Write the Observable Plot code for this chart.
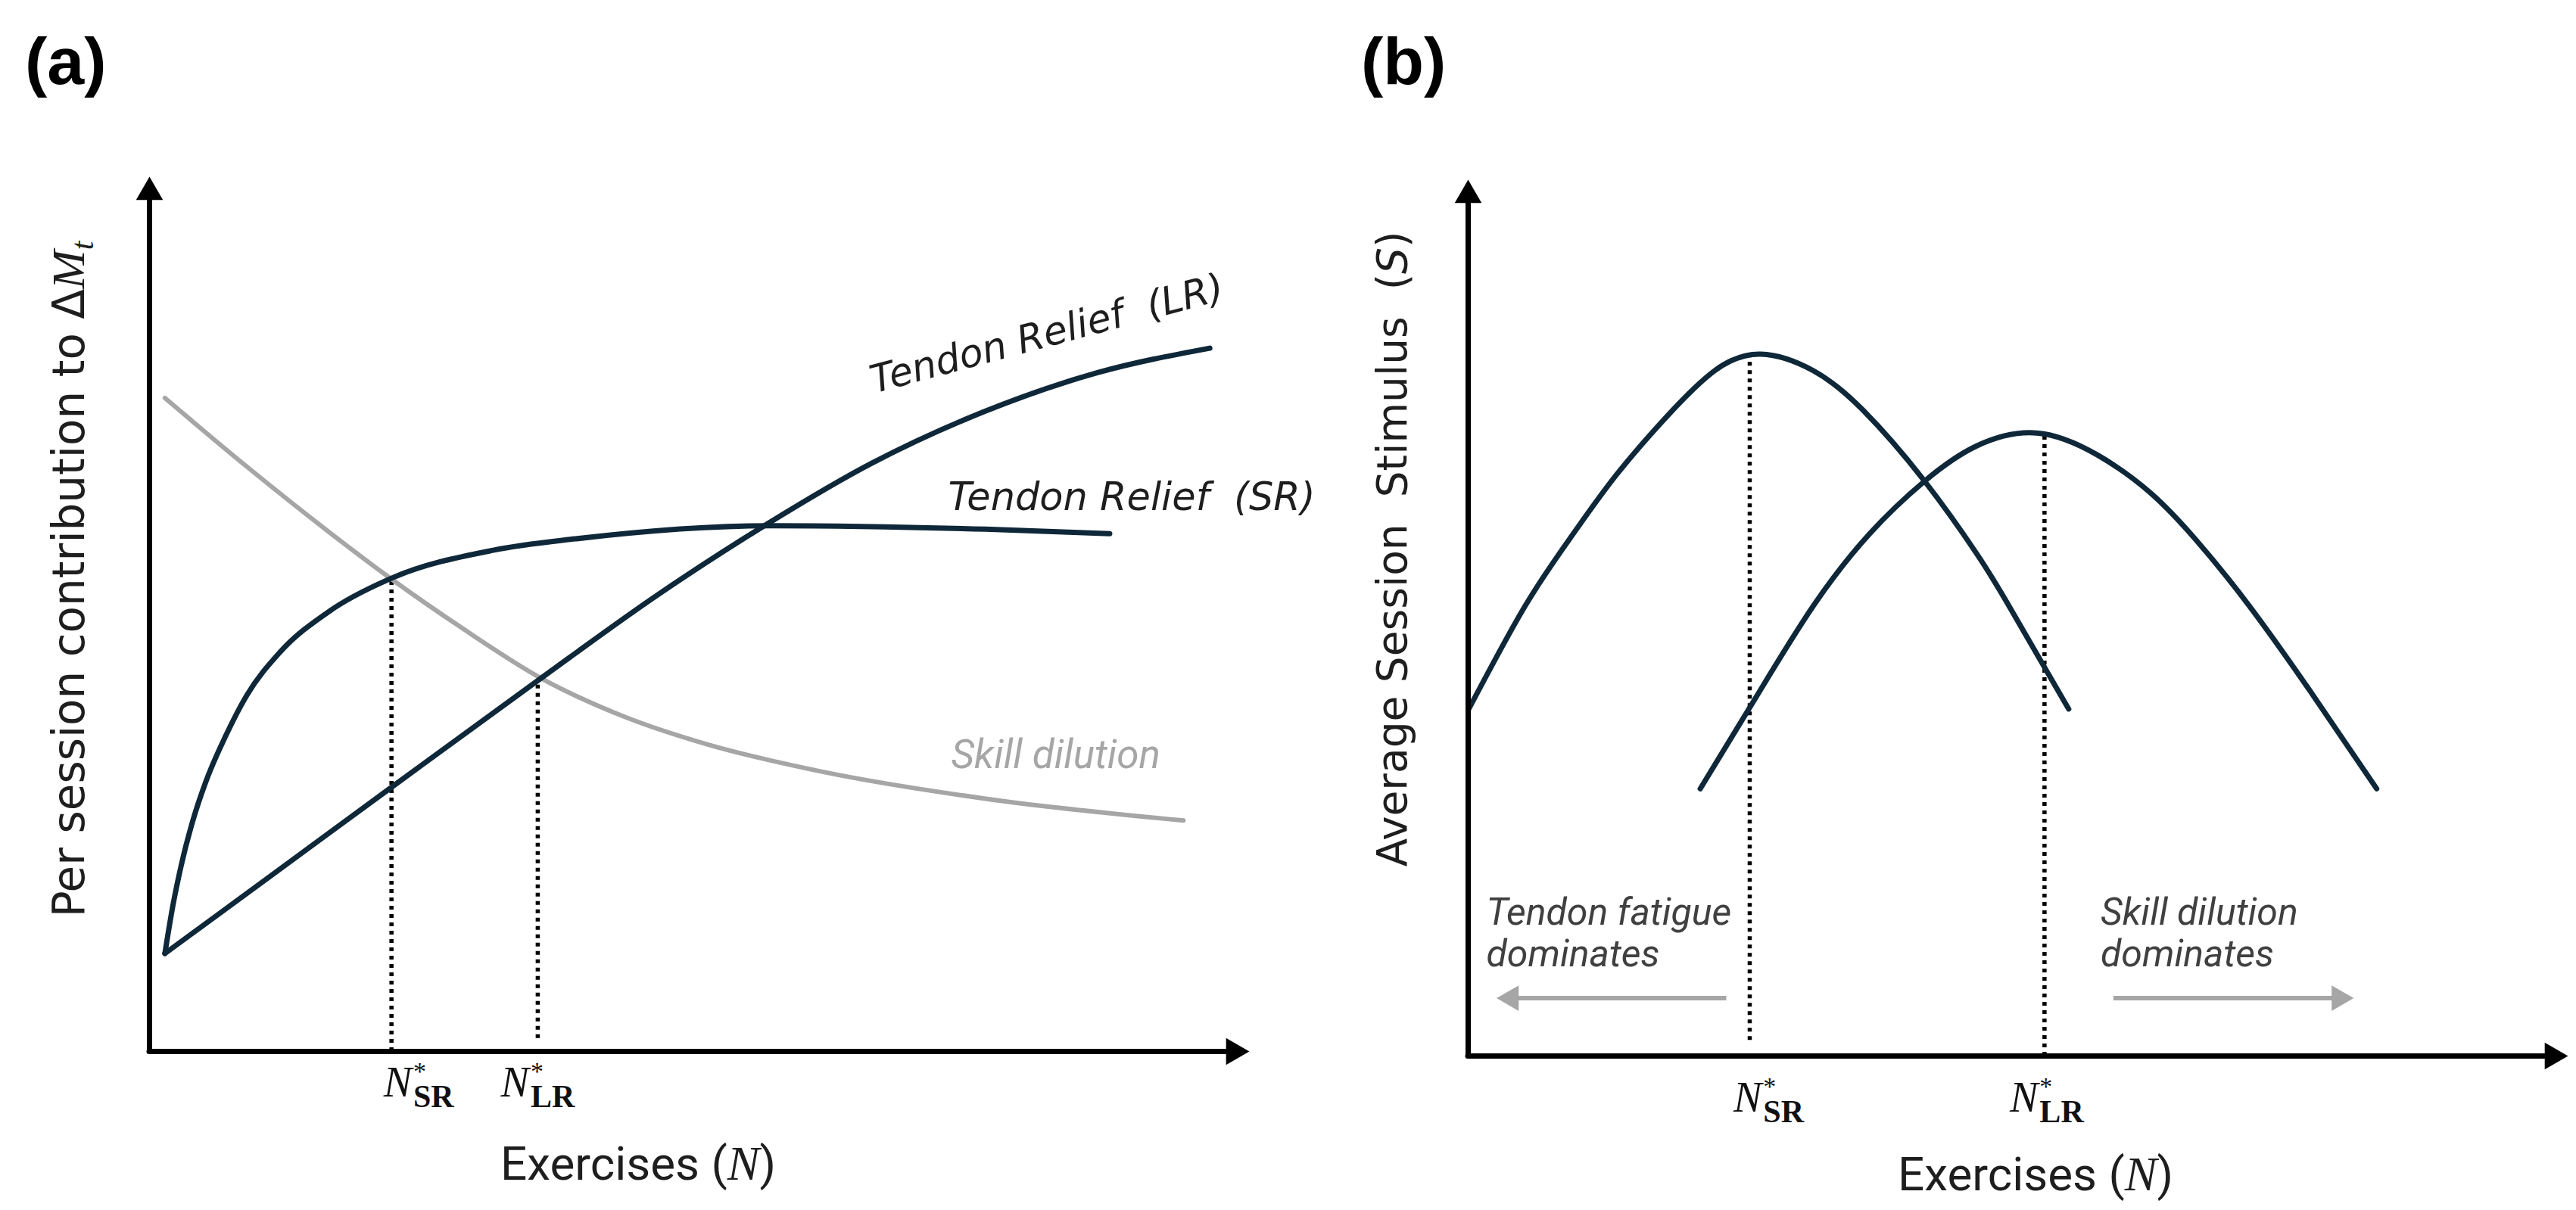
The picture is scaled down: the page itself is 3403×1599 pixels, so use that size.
<!DOCTYPE html>
<html>
<head>
<meta charset="utf-8">
<script src="https://cdn.jsdelivr.net/npm/d3@7"></script>
<script src="https://cdn.jsdelivr.net/npm/@observablehq/plot@0.6"></script>
<style>
  html, body { margin: 0; padding: 0; background: #fff; }
  #fig { position: relative; width: 3403px; height: 1599px; overflow: hidden; background: #fff; }
  .panel { position: absolute; top: 0; height: 1599px; }
  .tag { position: absolute; font-family: "Liberation Sans", Arial, sans-serif; font-weight: bold; font-size: 88px; line-height: 1; color: #000; }
  svg text { white-space: pre; }
</style>
</head>
<body>
<div id="fig">
  <div class="tag" style="left:33px; top:37px">(a)</div>
  <div class="tag" style="left:1798px; top:37px">(b)</div>
  <div class="panel" id="pa" style="left:0; width:1780px"></div>
  <div class="panel" id="pb" style="left:1780px; width:1623px"></div>
</div>
<script>
// ---------------- data (arbitrary units) ----------------
// Panel (a): per-session contribution to ΔM_t vs exercises N
const aSR_N    = [1.4, 2.13, 2.87, 3.92, 5.11, 6.9, 8.84, 11.83, 16.32, 22.0, 31.25, 38.72, 56.6, 76.0, 87.3];
const aSR_V    = [11.2, 16.7, 21.2, 26.3, 30.8, 36.0, 40.7, 45.6, 50.3, 54.1, 57.3, 58.6, 60.1, 59.7, 59.2];
const aLR_N    = [1.4, 11.7, 22.0, 35.3, 46.2, 55.9, 65.6, 76.0, 86.2, 96.4];
const aLR_V    = [11.2, 20.7, 30.2, 42.4, 52.2, 60.1, 67.2, 73.2, 77.6, 80.4];
const aSkill_N = [1.4, 8.9, 16.3, 22.0, 28.3, 35.7, 43.2, 50.7, 61.1, 76.0, 94.0];
const aSkill_V = [74.7, 66.8, 59.4, 54.0, 48.5, 42.6, 38.25, 35.1, 32.0, 28.9, 26.4];
const aOpt_N   = [22.0, 35.3];      // N*_SR, N*_LR
const aOpt_Top = [54.1, 42.4];
const aOpt_Bot = [0, 1.5];

// Panel (b): average session stimulus S vs exercises N
const bSR_N = [0.1, 5.2, 9.5, 13.4, 18.0, 22.4, 26.6, 31.4, 35.9, 41.5, 46.3, 49.2, 54.6];
const bSR_V = [39.7, 51.4, 59.5, 66.2, 72.9, 78.2, 80.1, 78.2, 73.7, 65.6, 57.2, 51.3, 39.6];
const bLR_N = [21.1, 26.2, 31.4, 36.5, 41.5, 46.2, 51.7, 57.2, 62.0, 66.1, 71.0, 76.8, 82.6];
const bLR_V = [30.5, 41.0, 51.4, 59.6, 65.6, 69.6, 71.1, 68.6, 64.3, 59.0, 51.4, 41.2, 30.5];
const bOpt_N   = [25.6, 52.4];
const bOpt_Top = [79.8, 71.0];
const bOpt_Bot = [1.8, 0];

// tick labels and text
const tickBase = "N", tickSup = "*", tickSub = ["SR", "LR"];
const xTitle = "Exercises (N)";
const yTitleA = "Per session contribution to ΔMt";
const yTitleB = "Average Session  Stimulus  (S)";
const aNotes = [
  {n: 81.6, v: 82.0, text: "Tendon Relief  (LR)"},
  {n: 89.3, v: 61.9, text: "Tendon Relief  (SR)"}
];
const aSkillNote = [{n: 82.4, v: 32.4, text: "Skill dilution"}];
const bNotes = [
  {n: 1.65, v: 10.2, text: "Tendon fatigue\ndominates"},
  {n: 57.5, v: 10.2, text: "Skill dilution\ndominates"}
];
const bArrows = [{from: 23.5, to: 3.0, v: 6.6}, {from: 58.7, to: 80.1, v: 6.6}];

// ---------------- styling ----------------
const NAVY = "#0f2839", GREY = "#a6a6a6", INK = "#1e1e1e";
const WIDE = "'DejaVu Sans', sans-serif";
const SANS = "Roboto, 'Liberation Sans', sans-serif";
const SERIF = "'Liberation Serif', 'DejaVu Serif', serif";
const xDomain = [0, 100], yDomain = [0, 100];
const AR = 13.2, ATIP = 1.555 * AR;   // arrowhead radius and tip offset of d3 triangle

const zipPts = (N, V) => N.map((n, i) => ({n, v: V[i]}));
const optRows = (N, T, B) => N.map((n, i) => ({n, top: T[i], bot: B[i], label: tickBase + tickSup + tickSub[i]}));

function axisMarks() {
  return [
    Plot.ruleY([yDomain[0]], {stroke: "#000", strokeWidth: 7, insetRight: 22, strokeLinecap: "round"}),
    Plot.ruleX([xDomain[0]], {stroke: "#000", strokeWidth: 7, insetTop: 22, strokeLinecap: "round"}),
    Plot.dot([0], {x: () => xDomain[1], y: () => yDomain[0], symbol: "triangle", r: AR, rotate: 90, dx: -ATIP, fill: "#000", stroke: "none"}),
    Plot.dot([0], {x: () => xDomain[0], y: () => yDomain[1], symbol: "triangle", r: AR, rotate: 0, dy: ATIP, fill: "#000", stroke: "none"})
  ];
}

function optMarks(rows, dy, shifts) {
  const m = [
    Plot.ruleX(rows, {x: "n", y1: "bot", y2: "top", stroke: "#000", strokeWidth: 5.5, strokeDasharray: "5 6"})
  ];
  rows.forEach((r, i) => {
    m.push(Plot.text([r], {x: "n", y: () => yDomain[0], text: "label", dx: shifts[i], dy,
      textAnchor: "middle", lineAnchor: "bottom", fontFamily: SERIF, fontSize: 56, fill: "#111"}));
  });
  return m;
}

function curve(pts, stroke, w, kind = "monotone-x") {
  return Plot.line(pts, {x: "n", y: "v", stroke, strokeWidth: w, curve: kind, strokeLinecap: "round", strokeLinejoin: "round"});
}

// rich text (subscripts / italics) applied after render
const RICH = {};
tickSub.forEach(s => {
  RICH[tickBase + tickSup + s] = [
    {t: tickBase, ff: SERIF, st: "italic", fs: 56},
    {t: tickSup, ff: SERIF, fs: 34, dx: 2, dy: -22},
    {t: s, ff: SERIF, fw: "bold", fs: 42, dx: -17, dy: 36}
  ];
});
RICH[xTitle] = [{t: "Exercises (", ff: SANS}, {t: "N", ff: SERIF, st: "italic", fs: 64}, {t: ")", ff: SANS}];
RICH[yTitleA] = [{t: "Per session contribution to Δ", ff: WIDE}, {t: "M", ff: SERIF, st: "italic", fs: 62}, {t: "t", ff: SERIF, st: "italic", fs: 42, dy: 12}];
RICH[yTitleB] = [{t: "Average Session  Stimulus  (", ff: WIDE}, {t: "S", ff: WIDE, st: "italic"}, {t: ")", ff: WIDE}];

function richify(svg) {
  d3.select(svg).selectAll("text").each(function () {
    const segs = RICH[this.textContent];
    if (!segs) return;
    const el = d3.select(this);
    el.text(null);
    for (const s of segs) {
      const ts = el.append("tspan").text(s.t);
      if (s.ff) ts.attr("font-family", s.ff);
      if (s.st) ts.attr("font-style", s.st);
      if (s.fw) ts.attr("font-weight", s.fw);
      if (s.fs) ts.attr("font-size", s.fs);
      if (s.dx) ts.attr("dx", s.dx);
      if (s.dy) ts.attr("dy", s.dy);
    }
  });
  return svg;
}

// ---------------- panel (a) ----------------
const panelA = Plot.plot({
  width: 1780, height: 1599,
  marginLeft: 197, marginRight: 130, marginTop: 233, marginBottom: 210,
  x: {domain: xDomain, axis: null},
  y: {domain: yDomain, axis: null},
  style: {background: "transparent", overflow: "visible"},
  marks: [
    ...optMarks(optRows(aOpt_N, aOpt_Top, aOpt_Bot), 59, [36, 0]),
    curve(zipPts(aSkill_N, aSkill_V), GREY, 6),
    curve(zipPts(aSR_N, aSR_V), NAVY, 7),
    curve(zipPts(aLR_N, aLR_V), NAVY, 7),
    ...axisMarks(),
    Plot.text([aNotes[0]], {x: "n", y: "v", text: "text", rotate: -15, fontFamily: WIDE, fontStyle: "italic", fontSize: 51, fill: INK, textAnchor: "middle", lineAnchor: "middle"}),
    Plot.text([aNotes[1]], {x: "n", y: "v", text: "text", fontFamily: WIDE, fontStyle: "italic", fontSize: 51, fill: INK, textAnchor: "middle", lineAnchor: "bottom"}),
    Plot.text(aSkillNote, {x: "n", y: "v", text: "text", fontFamily: SANS, fontStyle: "italic", fontSize: 53, fill: GREY, textAnchor: "middle", lineAnchor: "bottom"}),
    Plot.text([xTitle], {text: d => d, frameAnchor: "bottom", dx: -81, dy: 169, fontFamily: SANS, fontSize: 62, fill: INK, textAnchor: "middle", lineAnchor: "bottom"}),
    Plot.text([yTitleA], {text: d => d, frameAnchor: "left", rotate: -90, dx: -105, dy: -46, fontFamily: WIDE, fontSize: 58, fill: INK, textAnchor: "middle", lineAnchor: "middle"})
  ]
});
document.getElementById("pa").appendChild(richify(panelA));

// ---------------- panel (b) ----------------
const panelB = Plot.plot({
  width: 1623, height: 1599,
  marginLeft: 159, marginRight: 11, marginTop: 237, marginBottom: 204,
  x: {domain: xDomain, axis: null},
  y: {domain: yDomain, axis: null},
  style: {background: "transparent", overflow: "visible"},
  marks: [
    ...optMarks(optRows(bOpt_N, bOpt_Top, bOpt_Bot), 73, [25, 3]),
    curve(zipPts(bSR_N, bSR_V), NAVY, 7, "natural"),
    curve(zipPts(bLR_N, bLR_V), NAVY, 7, "natural"),
    ...axisMarks(),
    Plot.ruleY(bArrows, {y: "v", x1: "from", x2: "to", stroke: GREY, strokeWidth: 6}),
    Plot.dot([bArrows[0]], {x: "to", y: "v", symbol: "triangle", r: 12.5, rotate: -90, dx: 1.555 * 12.5 - 6, fill: GREY, stroke: "none"}),
    Plot.dot([bArrows[1]], {x: "to", y: "v", symbol: "triangle", r: 12.5, rotate: 90, dx: -(1.555 * 12.5 - 6), fill: GREY, stroke: "none"}),
    Plot.text(bNotes, {x: "n", y: "v", text: "text", fontFamily: SANS, fontStyle: "italic", fontSize: 50, lineHeight: 1.1, fill: "#404040", textAnchor: "start", lineAnchor: "bottom"}),
    Plot.text([xTitle], {text: d => d, frameAnchor: "bottom", dx: 23, dy: 177, fontFamily: SANS, fontSize: 62, fill: INK, textAnchor: "middle", lineAnchor: "bottom"}),
    Plot.text([yTitleB], {text: d => d, frameAnchor: "left", rotate: -90, dx: -99, dy: -91, fontFamily: WIDE, fontSize: 55, fill: INK, textAnchor: "middle", lineAnchor: "middle"})
  ]
});
document.getElementById("pb").appendChild(richify(panelB));
</script>
</body>
</html>
